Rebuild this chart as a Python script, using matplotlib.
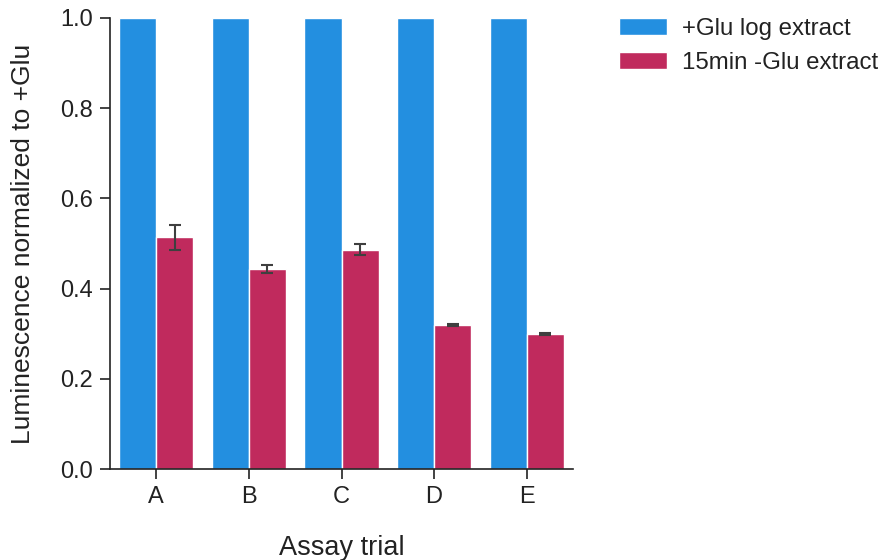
import matplotlib
matplotlib.use("Agg")
from matplotlib import pyplot as plt
import numpy as np
import seaborn as sns

trials = ["A", "B", "C", "D", "E"]
plus_glu = [1.0, 1.0, 1.0, 1.0, 1.0]
minus_glu = [0.514, 0.443, 0.486, 0.319, 0.299]
minus_glu_err = [0.028, 0.009, 0.012, 0.003, 0.002]

labels = ["+Glu log extract", "15min -Glu extract"]
colors = ["#238fe0", "#c02a5d"]


def main():
    sns.set_style("ticks")
    plt.rcParams['font.family'] = ['Liberation Sans', 'DejaVu Sans']

    fig = plt.figure(figsize=(8.88, 5.6), dpi=100)
    ax = fig.add_axes([110 / 888, 91 / 560, 463 / 888, 451 / 560])

    x = np.arange(len(trials))
    w = 0.4
    ax.bar(x - w / 2, plus_glu, w, color=colors[0], edgecolor="white", linewidth=1, label=labels[0])
    ax.bar(x + w / 2, minus_glu, w, color=colors[1], edgecolor="white", linewidth=1, label=labels[1])
    ax.errorbar(x + w / 2, minus_glu, yerr=minus_glu_err, fmt="none", ecolor="#3f3f3f",
                elinewidth=1.5, capsize=4, capthick=1.5)

    ax.set_xlim(-0.5, len(trials) - 0.5)
    ax.set_ylim(0, 1.0)
    ax.set_xticks(x)
    ax.set_xticklabels(trials)
    ax.set_yticks([0.0, 0.2, 0.4, 0.6, 0.8, 1.0])
    ax.tick_params(labelsize=17, colors="#222222", length=7, width=1.2, pad=5)
    for s in ["left", "bottom"]:
        ax.spines[s].set_linewidth(1.2)
        ax.spines[s].set_color("#222222")
    sns.despine(ax=ax)

    ax.set_xlabel("Assay trial", fontsize=19.5, color="#222222", labelpad=20)
    ax.set_ylabel("Luminescence normalized to +Glu", fontsize=19, color="#222222", labelpad=18)

    ax.legend(loc="upper left", bbox_to_anchor=(1.052, 1.049), frameon=False, fontsize=17.3,
              handlelength=2.0, handleheight=0.7, handletextpad=0.65, labelcolor="#222222")

    fig.savefig("out.png", dpi=100)


if __name__ == "__main__":
    main()
